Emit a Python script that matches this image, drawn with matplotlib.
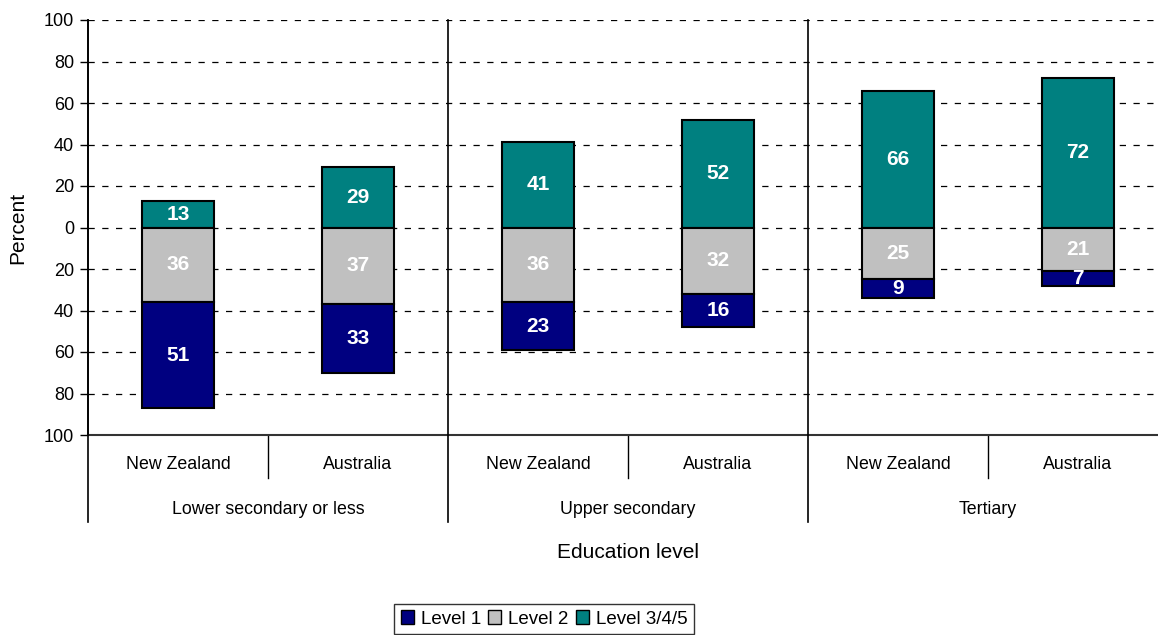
import numpy as np
import matplotlib
matplotlib.use("Agg")
import matplotlib.pyplot as plt
from matplotlib.patches import Patch

plt.rcParams['font.family'] = ['Liberation Sans', 'DejaVu Sans']

groups = ['Lower secondary or less', 'Upper secondary', 'Tertiary']
countries = ['New Zealand', 'Australia']
level1 = [51, 33, 23, 16, 9, 7]
level2 = [36, 37, 36, 32, 25, 21]
level345 = [13, 29, 41, 52, 66, 72]
yticks = [-100, -80, -60, -40, -20, 0, 20, 40, 60, 80, 100]

c1, c2, c3 = '#000080', '#C0C0C0', '#008080'

fig = plt.figure(figsize=(11.58, 6.35), dpi=100)
W, H = 1158, 635
ax = fig.add_axes([88 / W, (H - 435) / H, 1080 / W, 415 / H])

x = np.arange(len(level1)) + 0.5
l1 = np.array(level1)
l2 = np.array(level2)
l3 = np.array(level345)
bw = 0.4
ax.bar(x, l3, bw, bottom=0, color=c3, edgecolor='black', lw=1.5, zorder=3)
ax.bar(x, -l2, bw, bottom=0, color=c2, edgecolor='black', lw=1.5, zorder=3)
ax.bar(x, -l1, bw, bottom=-l2, color=c1, edgecolor='black', lw=1.5, zorder=3)

# value labels in the middle of each piece
for i in range(len(x)):
    ax.text(x[i], l3[i] / 2, str(l3[i]), ha='center', va='center', color='white',
            fontsize=15, fontweight='bold', zorder=4)
    ax.text(x[i], -l2[i] / 2, str(l2[i]), ha='center', va='center', color='white',
            fontsize=15, fontweight='bold', zorder=4)
    ax.text(x[i], -l2[i] - l1[i] / 2, str(l1[i]), ha='center', va='center', color='white',
            fontsize=15, fontweight='bold', zorder=4)

ax.set_xlim(0, 6)
ax.set_ylim(-100, 100)
ax.set_yticks(yticks)
ax.set_yticklabels([str(abs(t)) for t in yticks], fontsize=13)
ax.tick_params(axis='y', direction='out', length=6, width=1, pad=4)
ax.set_xticks([])
for t in yticks[1:]:
    ax.axhline(t, color='black', lw=0.9, ls=(0, (5, 6)), zorder=1)
ax.spines['top'].set_visible(False)
ax.spines['right'].set_visible(False)
ax.spines['left'].set_linewidth(1.2)
ax.spines['bottom'].set_linewidth(1.5)
ax.spines['bottom'].set_color('#333333')

trans = ax.get_xaxis_transform()
# group separators
for gx in [0, 2, 4]:
    ax.plot([gx, gx], [1, -0.21], transform=trans, color='black', lw=1.2, clip_on=False, zorder=5)
# country separators
for cx in [1, 3, 5]:
    ax.plot([cx, cx], [0, -0.104], transform=trans, color='black', lw=1, clip_on=False)

for i in range(len(x)):
    ax.text(x[i], -0.072, countries[i % 2], transform=trans, ha='center', va='center', fontsize=12.8)
for g in range(len(groups)):
    ax.text(2 * g + 1, -0.18, groups[g], transform=trans, ha='center', va='center', fontsize=12.8)

ax.text(3.0, -0.282, 'Education level', transform=trans,
        ha='center', va='center', fontsize=15)
fig.text(18 / W, 1 - 228 / H, 'Percent', rotation=90, ha='center', va='center', fontsize=15)

handles = [Patch(facecolor=c1, edgecolor='black', label='Level 1'),
           Patch(facecolor=c2, edgecolor='black', label='Level 2'),
           Patch(facecolor=c3, edgecolor='black', label='Level 3/4/5')]
leg = fig.legend(handles=handles, loc='center', bbox_to_anchor=(544 / W, 1 - 619 / H), ncol=3,
                 fontsize=13.5, frameon=True, fancybox=False, edgecolor='black',
                 handlelength=0.7, handleheight=0.7, handletextpad=0.35, columnspacing=0.4,
                 borderpad=0.35, borderaxespad=0)
leg.get_frame().set_linewidth(1)

fig.savefig('out.png', dpi=100)
